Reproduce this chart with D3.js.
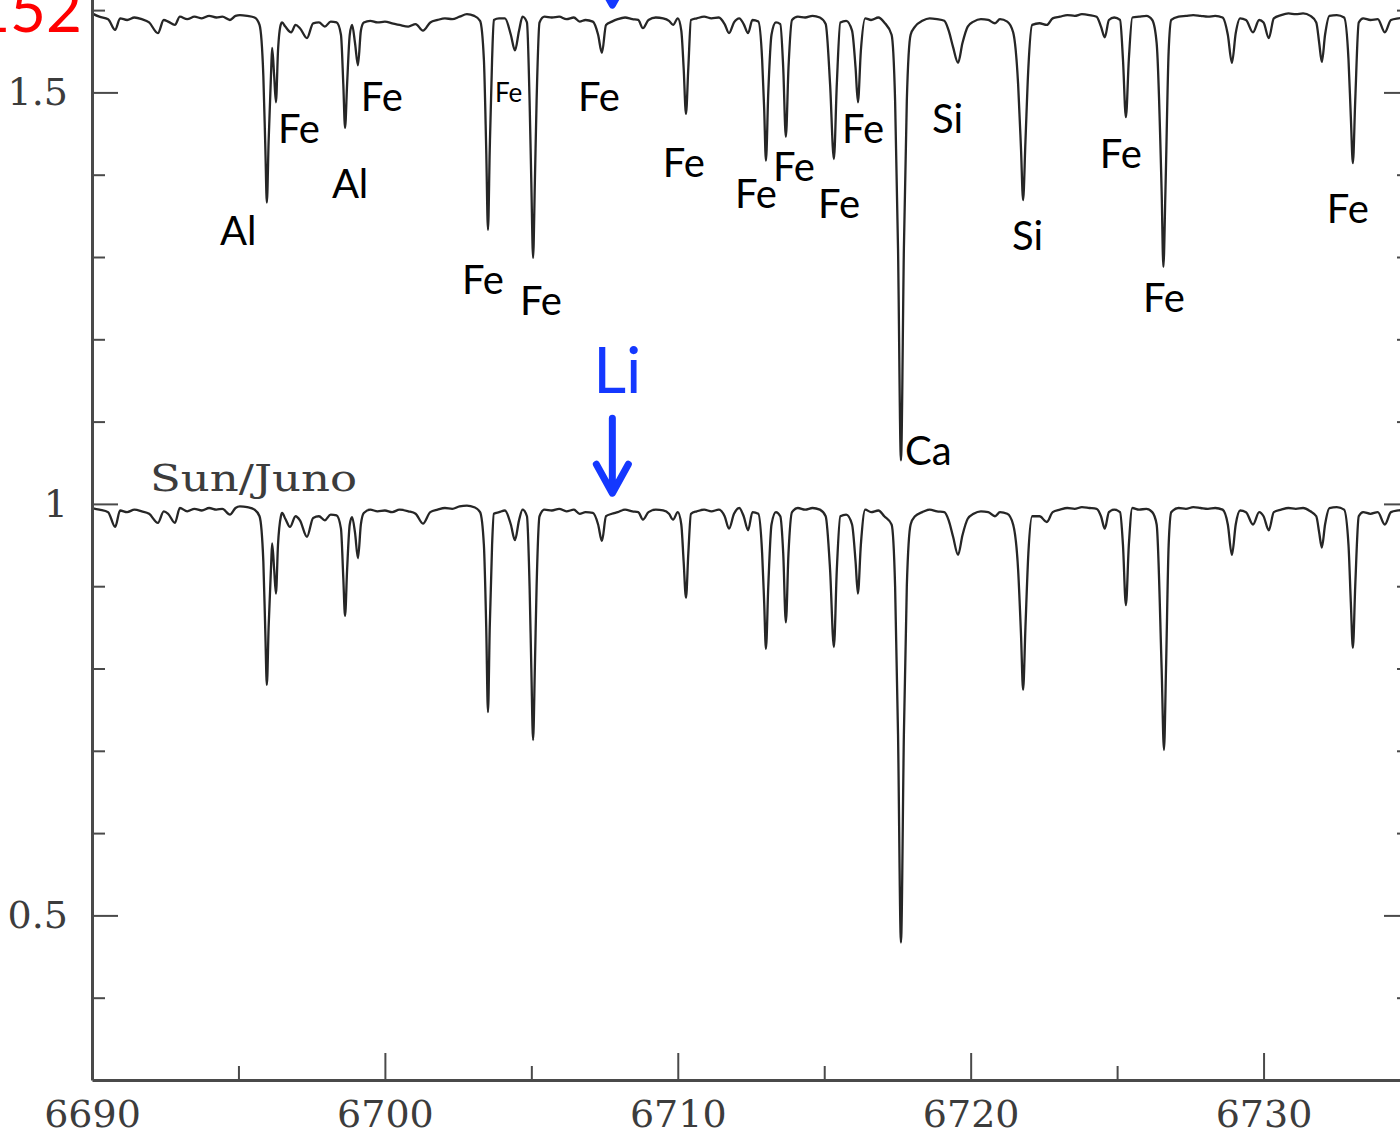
<!DOCTYPE html>
<html>
<head>
<meta charset="utf-8">
<script src="https://cdn.jsdelivr.net/npm/d3@7"></script>
<style>
  html, body { margin: 0; padding: 0; background: #fff; overflow: hidden; }
  svg { display: block; }
</style>
</head>
<body>
<svg id="chart" width="1400" height="1134"></svg>
<script>
// Solar spectrum reflected from Juno, continuum-normalised: [wavelength (Å), flux]
const sunJuno = [
  [6690.00,0.995],[6690.25,0.993],[6690.55,0.990],[6690.79,0.972],[6690.96,0.992],[6691.20,0.990],
  [6691.45,0.993],[6691.70,0.991],[6691.95,0.988],[6692.25,0.977],[6692.45,0.991],[6692.60,0.988],
  [6692.83,0.977],[6693.00,0.995],[6693.25,0.991],[6693.50,0.994],[6693.75,0.992],[6694.00,0.995],
  [6694.25,0.993],[6694.45,0.994],[6694.71,0.987],[6694.90,0.995],[6695.05,0.997],[6695.30,0.996],
  [6695.55,0.993],[6695.72,0.985],[6695.85,0.930],[6695.92,0.840],[6695.97,0.780],[6696.03,0.850],
  [6696.12,0.930],[6696.15,0.952],[6696.22,0.920],[6696.28,0.891],[6696.35,0.950],[6696.45,0.985],
  [6696.49,0.989],[6696.60,0.982],[6696.76,0.972],[6696.95,0.985],[6697.10,0.980],[6697.34,0.960],
  [6697.55,0.983],[6697.75,0.985],[6697.95,0.980],[6698.15,0.987],[6698.35,0.986],[6698.50,0.970],
  [6698.58,0.910],[6698.64,0.864],[6698.71,0.920],[6698.80,0.975],[6698.88,0.984],[6698.98,0.965],
  [6699.08,0.934],[6699.18,0.975],[6699.28,0.989],[6699.50,0.993],[6699.75,0.991],[6700.00,0.992],
  [6700.25,0.990],[6700.50,0.993],[6700.80,0.991],[6701.05,0.988],[6701.30,0.976],[6701.55,0.990],
  [6701.80,0.993],[6702.05,0.995],[6702.30,0.994],[6702.55,0.997],[6702.80,0.998],[6703.05,0.996],
  [6703.25,0.990],[6703.38,0.950],[6703.46,0.850],[6703.52,0.747],[6703.58,0.850],[6703.66,0.950],
  [6703.72,0.988],[6703.90,0.990],[6704.10,0.992],[6704.30,0.975],[6704.44,0.956],[6704.58,0.980],
  [6704.70,0.993],[6704.85,0.985],[6704.94,0.900],[6705.00,0.800],[6705.06,0.713],[6705.12,0.800],
  [6705.18,0.900],[6705.28,0.985],[6705.45,0.993],[6705.70,0.992],[6705.95,0.994],[6706.20,0.991],
  [6706.45,0.993],[6706.65,0.988],[6706.85,0.990],[6707.10,0.989],[6707.28,0.975],[6707.41,0.955],
  [6707.55,0.985],[6707.75,0.988],[6707.95,0.990],[6708.20,0.993],[6708.45,0.991],[6708.65,0.990],
  [6708.81,0.981],[6709.00,0.990],[6709.25,0.993],[6709.50,0.992],[6709.70,0.988],[6709.84,0.981],
  [6710.00,0.990],[6710.12,0.975],[6710.20,0.930],[6710.28,0.886],[6710.36,0.940],[6710.45,0.988],
  [6710.65,0.991],[6710.90,0.993],[6711.15,0.991],[6711.40,0.993],[6711.60,0.985],[6711.75,0.970],
  [6711.92,0.988],[6712.10,0.995],[6712.25,0.985],[6712.40,0.968],[6712.55,0.990],[6712.75,0.988],
  [6712.88,0.940],[6712.95,0.880],[6713.01,0.824],[6713.09,0.900],[6713.20,0.975],[6713.35,0.990],
  [6713.50,0.985],[6713.60,0.940],[6713.69,0.856],[6713.78,0.940],[6713.90,0.990],[6714.10,0.995],
  [6714.35,0.993],[6714.60,0.995],[6714.85,0.993],[6715.05,0.985],[6715.20,0.920],[6715.33,0.826],
  [6715.43,0.920],[6715.55,0.985],[6715.75,0.987],[6715.95,0.975],[6716.07,0.930],[6716.15,0.891],
  [6716.25,0.950],[6716.40,0.993],[6716.60,0.990],[6716.85,0.992],[6717.05,0.985],[6717.30,0.975],
  [6717.42,0.900],[6717.52,0.720],[6717.62,0.467],[6717.72,0.720],[6717.82,0.900],[6717.95,0.975],
  [6718.10,0.985],[6718.35,0.990],[6718.60,0.993],[6718.85,0.991],[6719.10,0.990],[6719.25,0.980],
  [6719.40,0.960],[6719.57,0.938],[6719.72,0.962],[6719.90,0.982],[6720.10,0.988],[6720.35,0.991],
  [6720.60,0.990],[6720.83,0.985],[6721.00,0.990],[6721.25,0.988],[6721.45,0.975],[6721.62,0.920],
  [6721.72,0.840],[6721.79,0.774],[6721.87,0.850],[6721.97,0.940],[6722.10,0.985],[6722.35,0.985],
  [6722.60,0.978],[6722.80,0.990],[6723.05,0.993],[6723.30,0.995],[6723.55,0.994],[6723.80,0.996],
  [6724.05,0.995],[6724.30,0.994],[6724.45,0.985],[6724.58,0.970],[6724.72,0.990],[6724.90,0.993],
  [6725.10,0.990],[6725.20,0.950],[6725.30,0.877],[6725.40,0.950],[6725.52,0.995],[6725.75,0.993],
  [6726.00,0.994],[6726.20,0.990],[6726.35,0.975],[6726.52,0.800],[6726.60,0.701],[6726.67,0.800],
  [6726.76,0.950],[6726.85,0.990],[6727.10,0.995],[6727.35,0.994],[6727.60,0.996],[6727.85,0.995],
  [6728.10,0.994],[6728.35,0.995],[6728.60,0.993],[6728.78,0.975],[6728.92,0.938],[6729.05,0.975],
  [6729.20,0.992],[6729.40,0.990],[6729.64,0.975],[6729.85,0.990],[6730.00,0.985],[6730.18,0.968],
  [6730.35,0.990],[6730.60,0.993],[6730.85,0.995],[6731.10,0.994],[6731.35,0.995],[6731.60,0.991],
  [6731.80,0.985],[6731.90,0.965],[6731.99,0.947],[6732.10,0.975],[6732.25,0.995],[6732.50,0.996],
  [6732.75,0.993],[6732.90,0.950],[6732.98,0.880],[6733.05,0.825],[6733.13,0.900],[6733.25,0.985],
  [6733.40,0.990],[6733.65,0.988],[6733.90,0.990],[6734.14,0.975],[6734.35,0.990],[6734.60,0.992],
  [6734.85,0.993],[6735.00,0.994]
];

// Stellar spectrum, shifted up by 0.6 for display: [wavelength (Å), flux + 0.6]
const starSpectrum = [
  [6690.00,1.596],[6690.25,1.592],[6690.55,1.589],[6690.79,1.576],[6690.96,1.590],[6691.20,1.588],
  [6691.45,1.591],[6691.70,1.589],[6691.95,1.585],[6692.25,1.572],[6692.45,1.588],[6692.60,1.586],
  [6692.83,1.582],[6693.00,1.592],[6693.25,1.589],[6693.50,1.592],[6693.75,1.590],[6694.00,1.593],
  [6694.25,1.591],[6694.45,1.592],[6694.71,1.588],[6694.90,1.593],[6695.05,1.594],[6695.30,1.593],
  [6695.55,1.591],[6695.72,1.582],[6695.85,1.520],[6695.92,1.430],[6695.97,1.366],[6696.03,1.440],
  [6696.12,1.530],[6696.15,1.554],[6696.22,1.520],[6696.28,1.488],[6696.35,1.550],[6696.45,1.583],
  [6696.49,1.585],[6696.60,1.580],[6696.80,1.573],[6696.95,1.582],[6697.10,1.578],[6697.34,1.566],
  [6697.55,1.584],[6697.75,1.585],[6697.95,1.580],[6698.15,1.586],[6698.35,1.585],[6698.50,1.570],
  [6698.58,1.510],[6698.64,1.457],[6698.71,1.510],[6698.80,1.570],[6698.88,1.582],[6698.98,1.560],
  [6699.08,1.533],[6699.18,1.575],[6699.28,1.585],[6699.50,1.587],[6699.75,1.585],[6700.00,1.586],
  [6700.25,1.584],[6700.50,1.582],[6700.80,1.580],[6701.05,1.583],[6701.30,1.575],[6701.55,1.585],
  [6701.80,1.588],[6702.05,1.590],[6702.30,1.589],[6702.55,1.592],[6702.80,1.595],[6703.05,1.593],
  [6703.25,1.587],[6703.38,1.540],[6703.46,1.430],[6703.52,1.333],[6703.58,1.430],[6703.66,1.540],
  [6703.72,1.588],[6703.90,1.590],[6704.10,1.590],[6704.30,1.570],[6704.44,1.551],[6704.58,1.575],
  [6704.70,1.592],[6704.85,1.585],[6704.94,1.490],[6705.00,1.390],[6705.06,1.299],[6705.12,1.390],
  [6705.18,1.490],[6705.28,1.585],[6705.45,1.592],[6705.70,1.591],[6705.95,1.592],[6706.20,1.589],
  [6706.45,1.591],[6706.65,1.586],[6706.85,1.588],[6707.10,1.586],[6707.28,1.570],[6707.41,1.548],
  [6707.55,1.582],[6707.75,1.586],[6707.95,1.589],[6708.20,1.591],[6708.45,1.589],[6708.65,1.588],
  [6708.81,1.578],[6709.00,1.588],[6709.25,1.591],[6709.50,1.590],[6709.70,1.587],[6709.84,1.582],
  [6710.00,1.590],[6710.12,1.575],[6710.20,1.530],[6710.28,1.474],[6710.36,1.530],[6710.45,1.588],
  [6710.65,1.590],[6710.90,1.592],[6711.15,1.590],[6711.40,1.591],[6711.60,1.583],[6711.75,1.572],
  [6711.92,1.585],[6712.10,1.590],[6712.25,1.583],[6712.40,1.572],[6712.55,1.588],[6712.75,1.586],
  [6712.88,1.540],[6712.95,1.480],[6713.01,1.417],[6713.09,1.500],[6713.20,1.570],[6713.35,1.585],
  [6713.50,1.583],[6713.60,1.530],[6713.69,1.446],[6713.78,1.530],[6713.90,1.588],[6714.10,1.592],
  [6714.35,1.591],[6714.60,1.593],[6714.85,1.591],[6715.05,1.583],[6715.20,1.510],[6715.33,1.419],
  [6715.43,1.510],[6715.55,1.585],[6715.75,1.587],[6715.95,1.575],[6716.07,1.530],[6716.15,1.488],
  [6716.25,1.550],[6716.40,1.590],[6716.60,1.588],[6716.85,1.591],[6717.05,1.585],[6717.30,1.570],
  [6717.42,1.490],[6717.52,1.310],[6717.62,1.053],[6717.72,1.310],[6717.82,1.490],[6717.95,1.570],
  [6718.10,1.580],[6718.35,1.587],[6718.60,1.590],[6718.85,1.589],[6719.10,1.587],[6719.25,1.575],
  [6719.40,1.555],[6719.57,1.536],[6719.72,1.560],[6719.90,1.580],[6720.10,1.586],[6720.35,1.589],
  [6720.60,1.588],[6720.83,1.584],[6721.00,1.589],[6721.25,1.586],[6721.45,1.573],[6721.62,1.510],
  [6721.72,1.430],[6721.79,1.369],[6721.87,1.440],[6721.97,1.530],[6722.10,1.582],[6722.35,1.584],
  [6722.60,1.582],[6722.80,1.590],[6723.05,1.592],[6723.30,1.594],[6723.55,1.593],[6723.80,1.595],
  [6724.05,1.594],[6724.30,1.592],[6724.45,1.580],[6724.58,1.567],[6724.72,1.588],[6724.90,1.591],
  [6725.10,1.588],[6725.20,1.540],[6725.30,1.470],[6725.40,1.540],[6725.52,1.591],[6725.75,1.592],
  [6726.00,1.593],[6726.20,1.588],[6726.35,1.560],[6726.52,1.380],[6726.58,1.288],[6726.65,1.380],
  [6726.76,1.550],[6726.85,1.588],[6727.10,1.592],[6727.35,1.593],[6727.60,1.594],[6727.85,1.593],
  [6728.10,1.592],[6728.35,1.593],[6728.60,1.591],[6728.78,1.570],[6728.92,1.536],[6729.05,1.572],
  [6729.20,1.590],[6729.40,1.588],[6729.64,1.573],[6729.85,1.588],[6730.00,1.585],[6730.18,1.566],
  [6730.35,1.590],[6730.60,1.594],[6730.85,1.596],[6731.10,1.595],[6731.35,1.596],[6731.60,1.593],
  [6731.80,1.585],[6731.90,1.560],[6731.99,1.537],[6732.10,1.570],[6732.25,1.593],[6732.50,1.594],
  [6732.75,1.591],[6732.90,1.540],[6732.98,1.470],[6733.05,1.414],[6733.13,1.490],[6733.25,1.585],
  [6733.40,1.590],[6733.65,1.588],[6733.90,1.589],[6734.14,1.573],[6734.35,1.588],[6734.60,1.590],
  [6734.85,1.591],[6735.00,1.592]
];

// Element identifications: [label, wavelength at left edge, flux at baseline, small]
const lineLabels = [
  ["Al", 6694.37, 1.314, false], ["Fe", 6696.35, 1.438, false], ["Al", 6698.19, 1.372, false],
  ["Fe", 6699.18, 1.478, false], ["Fe", 6703.76, 1.488, true],  ["Fe", 6706.59, 1.478, false],
  ["Fe", 6702.63, 1.255, false], ["Fe", 6704.61, 1.229, false], ["Fe", 6709.49, 1.397, false],
  ["Fe", 6711.95, 1.359, false], ["Fe", 6713.25, 1.392, false], ["Fe", 6714.79, 1.347, false],
  ["Fe", 6715.61, 1.439, false], ["Si", 6718.68, 1.451, false], ["Si", 6721.41, 1.308, false],
  ["Fe", 6724.41, 1.408, false], ["Fe", 6725.88, 1.233, false], ["Fe", 6732.16, 1.341, false],
  ["Ca", 6717.76, 1.047, false]
];

const xMajorTicks = [6690, 6700, 6710, 6720, 6730];
const xMinorTicks = [6695, 6705, 6715, 6725, 6735];
const yMajorTicks = [0.5, 1, 1.5];
const yMinorTicks = [0.4, 0.6, 0.7, 0.8, 0.9, 1.1, 1.2, 1.3, 1.4, 1.6];

const liWavelength = 6707.8;
const spectrumTitle = "Sun/Juno";
const starName = "152";

// ---- scales ----
const x = d3.scaleLinear().domain([6690, 6735]).range([92, 1410]);
const y = d3.scaleLinear().domain([0.3, 1.7]).range([1080, 1080 - 1.4 * 823]);

const svg = d3.select("#chart");
const axisColor = "#4a4a4a";
const tickFont = "'DejaVu Serif', serif";
const labelFont = "Lato, 'Open Sans', sans-serif";

// ---- spectra ----
svg.append("clipPath").attr("id", "plotClip")
  .append("rect").attr("x", 92).attr("y", y(1.7)).attr("width", 1410 - 92).attr("height", 1080 - y(1.7));

const line = d3.line().x(d => x(d[0])).y(d => y(d[1])).curve(d3.curveMonotoneX);

const spectra = svg.append("g").attr("clip-path", "url(#plotClip)");
[sunJuno, starSpectrum].forEach(s => {
  spectra.append("path").datum(s)
    .attr("d", line)
    .attr("fill", "none")
    .attr("stroke", "#262626")
    .attr("stroke-width", 2.3)
    .attr("stroke-linejoin", "round");
});

// ---- axes ----
function styleAxis(g, width) {
  g.selectAll("path.domain").attr("stroke", axisColor).attr("stroke-width", width);
  g.selectAll(".tick line").attr("stroke", axisColor).attr("stroke-width", 2);
  g.selectAll(".tick text").attr("fill", "#3c3c3c")
    .style("font-family", tickFont).style("font-size", "38px");
}

// bottom
const gx = svg.append("g").attr("transform", "translate(0,1080)")
  .call(d3.axisBottom(x).tickValues(xMajorTicks).tickFormat(d3.format("d"))
    .tickSizeInner(-27).tickSizeOuter(0).tickPadding(20));
styleAxis(gx, 3);
svg.append("g").attr("transform", "translate(0,1080)")
  .call(d3.axisBottom(x).tickValues(xMinorTicks).tickFormat("").tickSizeInner(-14).tickSizeOuter(0))
  .call(g => { g.select("path.domain").remove(); styleAxis(g, 3); });

// left
const gy = svg.append("g").attr("transform", "translate(92,0)")
  .call(d3.axisLeft(y).tickValues(yMajorTicks).tickFormat(d => String(d))
    .tickSizeInner(-26).tickSizeOuter(0).tickPadding(24));
styleAxis(gy, 3);
svg.append("g").attr("transform", "translate(92,0)")
  .call(d3.axisLeft(y).tickValues(yMinorTicks).tickFormat("").tickSizeInner(-13).tickSizeOuter(0))
  .call(g => { g.select("path.domain").remove(); styleAxis(g, 3); });

// right
const gr = svg.append("g").attr("transform", `translate(${x(6735)},0)`)
  .call(d3.axisRight(y).tickValues(yMajorTicks).tickFormat("").tickSizeInner(-26).tickSizeOuter(0));
styleAxis(gr, 3);
svg.append("g").attr("transform", `translate(${x(6735)},0)`)
  .call(d3.axisRight(y).tickValues(yMinorTicks).tickFormat("").tickSizeInner(-13).tickSizeOuter(0))
  .call(g => { g.select("path.domain").remove(); styleAxis(g, 3); });

// ---- spectrum title ----
svg.append("text")
  .attr("x", x(6691.98)).attr("y", y(1.016))
  .attr("fill", "#3c3c3c")
  .attr("textLength", 207)
  .attr("lengthAdjust", "spacingAndGlyphs")
  .style("font-family", tickFont).style("font-size", "38px")
  .text(spectrumTitle);

// ---- element labels ----
svg.append("g").selectAll("text").data(lineLabels).join("text")
  .attr("x", d => x(d[1])).attr("y", d => y(d[2]))
  .attr("fill", "#000")
  .style("font-family", labelFont)
  .style("font-size", d => d[3] ? "26px" : "40px")
  .text(d => d[0]);

// ---- lithium marker ----
const blue = "#1438ff";
svg.append("text")
  .attr("x", x(liWavelength) + 4).attr("y", y(1.135))
  .attr("text-anchor", "middle")
  .attr("fill", blue)
  .style("font-family", labelFont).style("font-size", "64px")
  .text("Li");

function arrow(top, tip) {
  const xa = x(liWavelength) - 1, yt = y(top), yp = y(tip);
  svg.append("path")
    .attr("d", `M${xa},${yt}L${xa},${yp - 4}M${xa - 16},${yp - 29}L${xa},${yp}L${xa + 16},${yp - 29}`)
    .attr("fill", "none")
    .attr("stroke", blue)
    .attr("stroke-width", 7)
    .attr("stroke-linecap", "round")
    .attr("stroke-linejoin", "round");
}
arrow(1.104, 1.013);
arrow(1.70, 1.606);

// ---- star name ----
svg.append("text")
  .attr("x", x(6689.66)).attr("y", y(1.574))
  .attr("text-anchor", "end")
  .attr("fill", "#ff0000")
  .style("font-family", labelFont).style("font-size", "62px")
  .text(starName);
</script>
</body>
</html>
